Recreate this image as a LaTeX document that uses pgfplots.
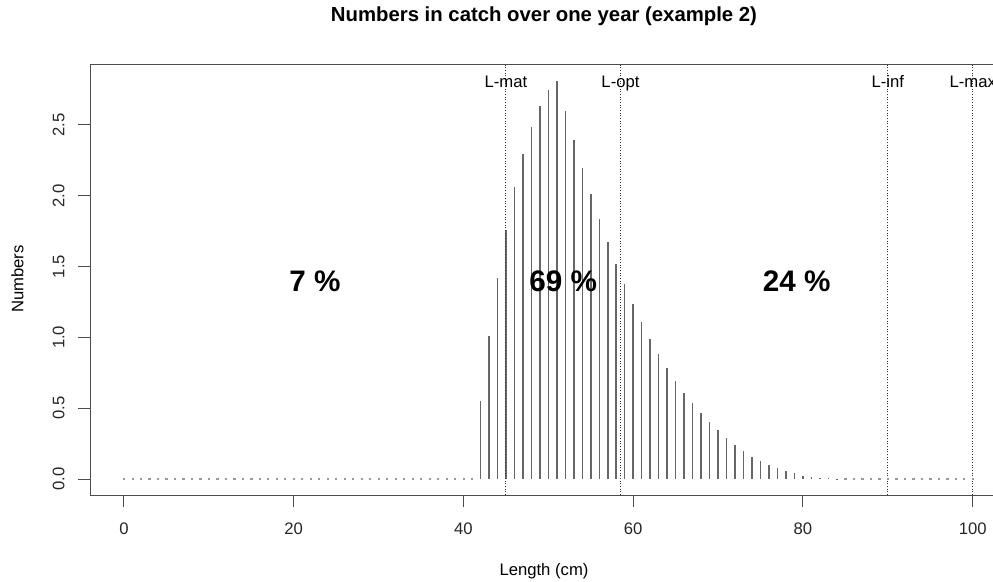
\documentclass[border=0pt]{standalone}
\usepackage{pgfplots}
\pgfplotsset{compat=1.18}
\usepackage{fontspec}
\setmainfont{Liberation Sans}

\pgfplotstableread{
x y
42 0.548
43 1.011
44 1.416
45 1.759
46 2.058
47 2.291
48 2.486
49 2.634
50 2.745
51 2.812
52 2.599
53 2.392
54 2.195
55 2.013
56 1.837
57 1.673
58 1.518
59 1.374
60 1.238
61 1.112
62 0.992
63 0.882
64 0.783
65 0.692
66 0.604
67 0.534
68 0.463
69 0.400
70 0.343
71 0.289
72 0.237
73 0.195
74 0.157
75 0.127
76 0.099
77 0.075
78 0.059
79 0.042
80 0.025
81 0.016
82 0.009
83 0.005
84 0.002
}\catchdata

\pgfplotstableread{
x y
0 0
1 0
2 0
3 0
4 0
5 0
6 0
7 0
8 0
9 0
10 0
11 0
12 0
13 0
14 0
15 0
16 0
17 0
18 0
19 0
20 0
21 0
22 0
23 0
24 0
25 0
26 0
27 0
28 0
29 0
30 0
31 0
32 0
33 0
34 0
35 0
36 0
37 0
38 0
39 0
40 0
41 0
85 0
86 0
87 0
88 0
89 0
90 0
91 0
92 0
93 0
94 0
95 0
96 0
97 0
98 0
99 0
100 0
}\zerodata

\begin{document}
\begin{tikzpicture}[x=1pt,y=1pt]
\useasboundingbox (-54,-51.6) rectangle (541.8,297);
\begin{axis}[
  at={(0,0)}, anchor=south west, scale only axis,
  width=550pt, height=258pt,
  xmin=-4, xmax=104, ymin=-0.1124, ymax=2.9224,
  axis line style={black!70, line width=0.6pt},
  xtick={0,20,40,60,80,100},
  ytick={0,0.5,1,1.5,2,2.5},
  tick align=outside, tick pos=left,
  major tick length=7pt,
  tick style={black!70, line width=0.6pt},
  /pgf/number format/assume math mode=true,
  ticklabel style={font=\fontsize{10}{12}\selectfont, text=black!85},
  xticklabel style={anchor=base, yshift=-16.4pt},
  yticklabel style={xshift=-8.4pt, rotate=90, anchor=base},
  yticklabel={\pgfmathprintnumber[fixed,fixed zerofill,precision=1]{\tick}},
  clip=false,
]
\addplot[ycomb, black!60, line width=0.9pt, mark=none] table[x=x,y=y]{\catchdata};
\addplot[only marks, mark=square*, mark size=0.35pt, black!40] table[x=x,y=y]{\zerodata};
\addplot[densely dotted, black!80, line width=0.6pt, mark=none] coordinates {(45,-0.1124) (45,2.9224)};
\addplot[densely dotted, black!80, line width=0.6pt, mark=none] coordinates {(58.5,-0.1124) (58.5,2.9224)};
\addplot[densely dotted, black!80, line width=0.6pt, mark=none] coordinates {(90,-0.1124) (90,2.9224)};
\addplot[densely dotted, black!80, line width=0.6pt, mark=none] coordinates {(100,-0.1124) (100,2.9224)};
\node[anchor=base, font=\fontsize{10}{12}\selectfont] at (axis cs:45,2.766) {L-mat};
\node[anchor=base, font=\fontsize{10}{12}\selectfont] at (axis cs:58.5,2.766) {L-opt};
\node[anchor=base, font=\fontsize{10}{12}\selectfont] at (axis cs:90,2.766) {L-inf};
\node[anchor=base, font=\fontsize{10}{12}\selectfont] at (axis cs:100,2.766) {L-max};
\node[anchor=base, font=\fontsize{17.8}{20}\selectfont\bfseries] at (axis cs:22.5,1.324) {7 \%};
\node[anchor=base, font=\fontsize{17.8}{20}\selectfont\bfseries] at (axis cs:51.75,1.324) {69 \%};
\node[anchor=base, font=\fontsize{17.8}{20}\selectfont\bfseries] at (axis cs:79.25,1.324) {24 \%};
\end{axis}
\node[anchor=base, font=\fontsize{12.2}{14}\selectfont\bfseries] at (272.4,284) {Numbers in catch over one year (example 2)};
\node[anchor=base, font=\fontsize{10}{12}\selectfont] at (272.4,-48) {Length (cm)};
\node[anchor=base, rotate=90, font=\fontsize{10}{12}\selectfont] at (-40,129.6) {Numbers};
\end{tikzpicture}
\end{document}
